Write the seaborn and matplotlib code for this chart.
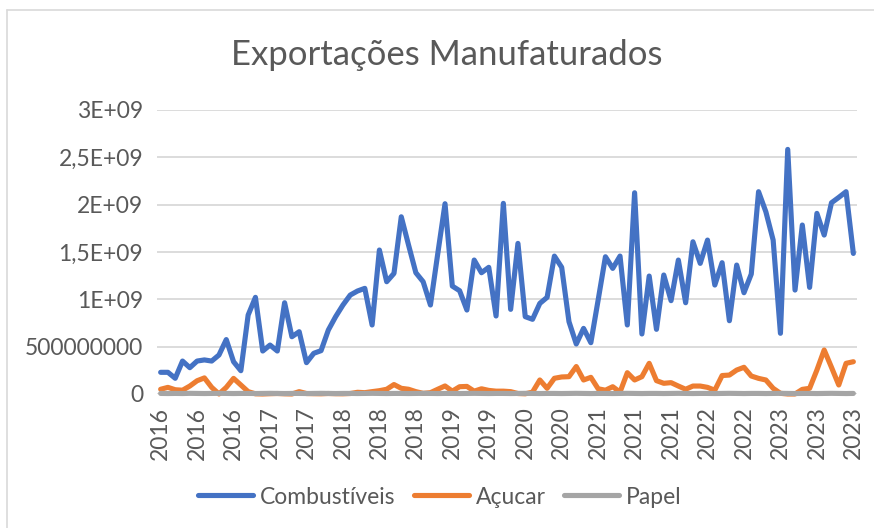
import numpy as np
import pandas as pd
import matplotlib
matplotlib.use("Agg")
import matplotlib.pyplot as plt
from matplotlib.lines import Line2D
import seaborn as sns

# ---- data (values in millions) ----
years = [2016, 2016, 2016, 2017, 2017, 2018, 2018, 2018, 2019, 2019,
         2020, 2020, 2021, 2021, 2021, 2022, 2022, 2023, 2023, 2023]

combustiveis = [229, 229, 166, 348, 278, 348, 360, 348, 412, 575,
                341, 246, 834, 1021, 454, 517, 454, 964, 605, 658,
                331, 430, 458, 676, 817, 940, 1045, 1088, 1116, 729,
                1521, 1186, 1274, 1872, 1573, 1281, 1186, 940, 1480, 2010,
                1140, 1091, 887, 1415, 1281, 1338, 824, 2014, 894, 1591,
                817, 789, 957, 1021, 1457, 1338, 764, 528, 693, 542,
                993, 1450, 1327, 1457, 729, 2126, 634, 1246, 683, 1257,
                986, 1415, 964, 1608, 1380, 1626, 1151, 1387, 774, 1362,
                1070, 1267, 2137, 1925, 1626, 641, 2584, 1098, 1785, 1126,
                1908, 1679, 2020, 2077, 2137, 1485]

acucar = [50, 70, 45, 40, 84, 140, 170, 70, 0, 70,
          165, 95, 25, 2, 0, 3, 5, 2, 0, 25,
          5, 3, 2, 5, 3, 2, 5, 18, 14, 25,
          35, 50, 100, 60, 50, 25, 7, 14, 50, 85,
          30, 77, 80, 30, 55, 38, 30, 30, 25, 5,
          2, 20, 148, 60, 166, 180, 183, 290, 148, 176,
          55, 40, 77, 20, 225, 148, 183, 324, 141, 113,
          120, 84, 50, 84, 84, 70, 40, 195, 200, 253,
          282, 190, 165, 148, 60, 7, 0, 0, 49, 60,
          253, 465, 282, 95, 324, 341]

papel = [6, 5, 6, 5, 7, 6, 5, 6, 7, 6,
         5, 6, 6, 5, 6, 7, 6, 5, 6, 6,
         5, 6, 7, 6, 5, 6, 6, 5, 6, 7,
         6, 5, 6, 6, 5, 6, 7, 6, 5, 6,
         6, 5, 6, 7, 6, 5, 6, 6, 5, 6,
         7, 6, 5, 6, 6, 5, 6, 7, 6, 5,
         6, 6, 5, 6, 7, 6, 5, 6, 6, 5,
         6, 7, 6, 5, 6, 6, 5, 6, 7, 6,
         5, 6, 6, 5, 6, 7, 6, 5, 6, 6,
         5, 6, 7, 6, 5, 6]

series_names = ["Combustíveis", "Açucar", "Papel"]
colors = ["#4472C4", "#ED7D31", "#A5A5A5"]

ytick_vals = [0, 5e8, 1e9, 1.5e9, 2e9, 2.5e9, 3e9]
ytick_labels = ["0", "500000000", "1E+09", "1,5E+09", "2E+09", "2,5E+09", "3E+09"]

n = len(combustiveis)
idx = np.arange(n)
df = pd.concat([
    pd.DataFrame({"i": idx, "v": np.array(combustiveis) * 1e6, "s": series_names[0]}),
    pd.DataFrame({"i": idx, "v": np.array(acucar) * 1e6, "s": series_names[1]}),
    pd.DataFrame({"i": idx, "v": np.array(papel) * 1e6, "s": series_names[2]}),
])

sns.set_theme(style="white")
plt.rcParams["font.family"] = ["Lato", "DejaVu Sans"]
txt = "#595959"

fig = plt.figure(figsize=(8.74, 5.28), dpi=100)
ax = fig.add_axes([157 / 874, 1 - 394 / 528, 700 / 874, 284 / 528])

sns.lineplot(data=df, x="i", y="v", hue="s", hue_order=series_names,
             palette=dict(zip(series_names, colors)), linewidth=3.7,
             ax=ax, legend=False, solid_capstyle="round", solid_joinstyle="round")
for ln in ax.lines:
    ln.set_clip_on(False)

ax.set_xlim(-0.5, n - 0.5)
ax.set_ylim(0, 3e9)
ax.set_yticks(ytick_vals, ytick_labels)
ax.set_xticks(np.arange(0, n, 5), [str(y) for y in years], rotation=90)
ax.tick_params(axis="both", length=0, labelsize=16.5, colors=txt)
ax.tick_params(axis="y", pad=10)
ax.tick_params(axis="x", pad=9)
ax.set_xlabel("")
ax.set_ylabel("")
ax.grid(axis="y", color="#D9D9D9", linewidth=1.3)
ax.set_axisbelow(True)
for sp in ax.spines.values():
    sp.set_visible(False)

fig.text(447 / 874, 1 - 55 / 528, "Exportações Manufaturados", ha="center",
         va="center", fontsize=25, color=txt)

handles = [Line2D([0], [0], color=c, lw=3.7) for c in colors]
fig.legend(handles, series_names, loc="center", bbox_to_anchor=(440 / 874, 1 - 497 / 528),
           ncol=3, frameon=False, fontsize=16.5, labelcolor=txt, handlelength=2.4,
           columnspacing=0.8, handletextpad=0.3)

# chart border
fig.add_artist(Line2D([7 / 874, 7 / 874], [0, 1 - 10 / 528], transform=fig.transFigure,
                      color="#D9D9D9", lw=1.2))
fig.add_artist(Line2D([7 / 874, 1], [1 - 10 / 528, 1 - 10 / 528], transform=fig.transFigure,
                      color="#D9D9D9", lw=1.2))

fig.savefig("out.png", dpi=100, facecolor="white")
